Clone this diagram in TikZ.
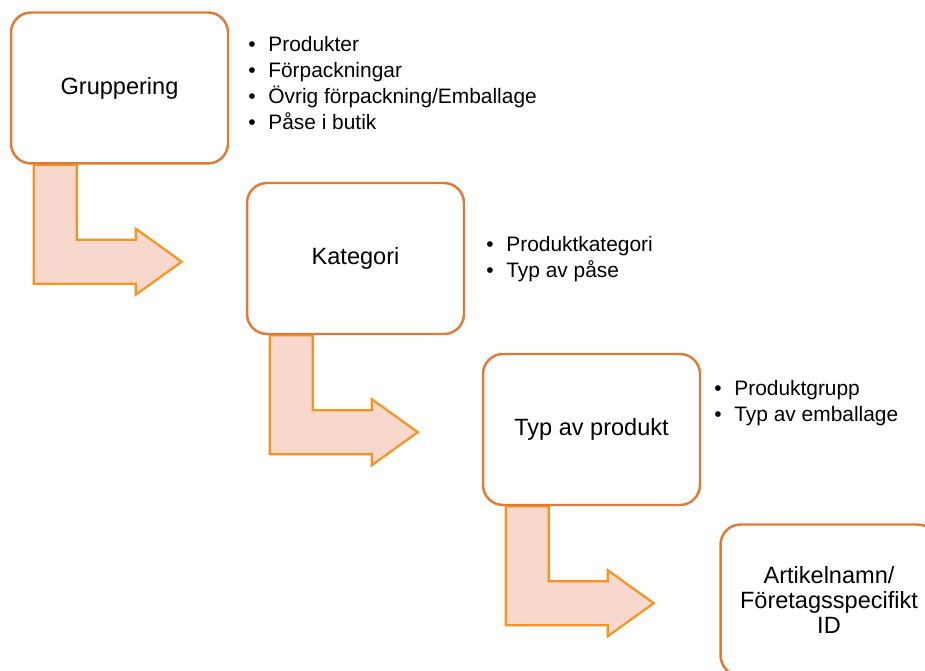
\documentclass[tikz,border=0pt]{standalone}
\usepackage{fontspec}
\setmainfont{Liberation Sans}
\usetikzlibrary{backgrounds}

\definecolor{boxorange}{RGB}{224,122,52}
\definecolor{arroworange}{RGB}{247,148,29}
\definecolor{arrowpink}{RGB}{248,215,205}

\tikzset{
    stage/.style={draw=boxorange, line width=1.4pt, rounded corners=0.4cm, fill=white,
        minimum width=4.34cm, minimum height=3.02cm, inner sep=0pt, align=center,
        font=\fontsize{13.4}{14.2}\selectfont},
    item/.style={anchor=base west, inner sep=0pt, font=\fontsize{11.9}{14}\selectfont},
    bentarrow/.style={draw=arroworange, fill=arrowpink, line width=1.25pt, line join=miter},
}

\begin{document}
\begin{tikzpicture}[x=0.02cm, y=-0.02cm]
    \def\bul{\makebox[0.4cm][l]{•}}

    \useasboundingbox (0, 0) rectangle (925, 671);
    \clip (0, 0) rectangle (925, 671);

    \node[stage] (grp) at (119.5, 88) {Gruppering};
    \node[stage] (kat) at (355.5, 258.5) {Kategori};
    \node[stage] (typ) at (591.5, 429.5) {Typ av produkt};
    \node[stage] (art) at (829, 600) {Artikelnamn/\\Företagsspecifikt\\ID};

    % bent arrow under each box
    \begin{scope}[on background layer]
        \foreach \stage in {grp, kat, typ}
            \draw[bentarrow, shift={(\stage.south west)}]
                (24, 0) -- (67, 0) -- (67, 75) -- (126, 75) -- (126, 64) -- (172, 97)
                -- (126, 130) -- (126, 119) -- (24, 119) -- cycle;
    \end{scope}

    \foreach \t [count=\k] in {Produkter, Förpackningar, Övrig förpackning/Emballage, Påse i butik}
        \node[item] (grp-\k) at (248, 51.7+25.8*\k-25.8) {\bul\t};

    \foreach \t [count=\k] in {Produktkategori, Typ av påse}
        \node[item] (kat-\k) at (486, 251.7+25.8*\k-25.8) {\bul\t};

    \foreach \t [count=\k] in {Produktgrupp, Typ av emballage}
        \node[item] (typ-\k) at (714, 395.5+25.8*\k-25.8) {\bul\t};
\end{tikzpicture}
\end{document}
